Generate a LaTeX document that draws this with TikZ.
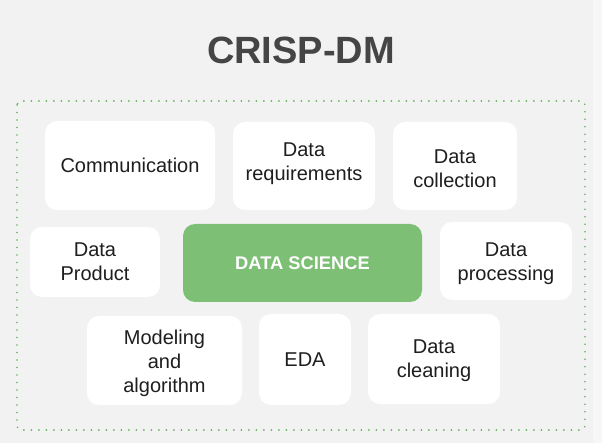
\documentclass[tikz,border=0pt]{standalone}
\usepackage{fontspec}
\setmainfont{Liberation Sans}
\usepackage{xcolor}
\usepackage{tikz}
\usetikzlibrary{positioning}
\usetikzlibrary{calc}

\definecolor{bggrey}{HTML}{F2F2F2}
\definecolor{stripgrey}{HTML}{F7F7F7}
\definecolor{framegreen}{HTML}{6AB062}
\definecolor{coregreen}{HTML}{7DBF75}
\definecolor{titlegrey}{HTML}{454545}
\definecolor{inkgrey}{HTML}{1E1E1E}

\begin{document}
\begin{tikzpicture}[x=1pt, y=-1pt,
    stage/.style={rectangle, fill=white, rounded corners=12pt, inner sep=0pt},
    core/.style={stage, fill=coregreen},
    txt/.style={align=center, text=inkgrey, font=\fontsize{20}{24}\selectfont},
    coretxt/.style={text=white, font=\fontsize{18.3}{22}\selectfont\bfseries}]
            % Background and page
            \fill[bggrey] (0,0) rectangle (602,443);
            \fill[stripgrey] (593,0) rectangle (602,443);
            \useasboundingbox (0,0) rectangle (602,443);

            % Title
            \node[anchor=base, text=titlegrey, font=\fontsize{38}{44}\selectfont\bfseries] (title) at (301,64) {CRISP-DM};

            % Dotted frame
            \draw[framegreen, line width=1.8pt, line cap=round, dash pattern=on 0pt off 7.5pt, rounded corners=4pt] (17,101) rectangle (585,430);

            % Define the boxes: name/x/y/width/height
            \foreach \name/\x/\y/\w/\h in {comm/130/165.5/170/89, req/304/166/142/88, coll/455/166/124/88,
                                           prod/95/262/130/70, proc/506/261/132/78,
                                           model/164.5/360.5/155/89, eda/305/359.5/92/91, clean/434/359/132/90} {
                \node[stage, minimum width=\w pt, minimum height=\h pt] (\name) at (\x,\y) {};
            }
            \node[core, minimum width=239pt, minimum height=78pt] (ds) at (302.5,263) {};

            % Label the boxes
            \node[txt] at (comm) {Communication};
            \node[txt] at ([yshift=2pt]req) {Data\\requirements};
            \node[txt] at ([yshift=-2.5pt]coll) {Data\\collection};
            \node[txt] at (prod) {Data\\Product};
            \node[coretxt] at (ds) {DATA SCIENCE};
            \node[txt] at ([yshift=-3pt]proc) {Data\\processing};
            \node[txt] at ([yshift=-3pt]model) {Modeling\\and\\algorithm};
            \node[txt] at (eda) {EDA};
            \node[txt] at ([yshift=-2pt]clean) {Data\\cleaning};
        \end{tikzpicture}
\end{document}
